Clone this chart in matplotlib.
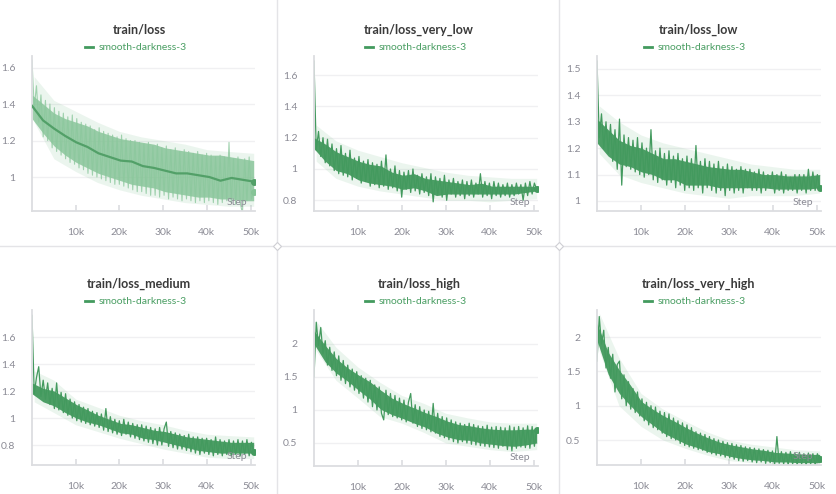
import numpy as np
import matplotlib
matplotlib.use("Agg")
import matplotlib.pyplot as plt

plt.rcParams['font.family'] = ['Lato', 'DejaVu Sans']

# ---------------- data ----------------
titles = ["train/loss", "train/loss_very_low", "train/loss_low",
          "train/loss_medium", "train/loss_high", "train/loss_very_high"]
legend_label = "smooth-darkness-3"
x_label = "Step"
xtick_vals = [10000, 20000, 30000, 40000, 50000]
xtick_labels = ["10k", "20k", "30k", "40k", "50k"]
ytick_sets = [
    [1, 1.2, 1.4, 1.6],
    [0.8, 1, 1.2, 1.4, 1.6],
    [1, 1.1, 1.2, 1.3, 1.4, 1.5],
    [0.8, 1, 1.2, 1.4, 1.6],
    [0.5, 1, 1.5, 2],
    [0.5, 1, 1.5, 2],
]

steps = np.arange(100) * 512
smooth_steps = np.arange(21) * 2535
core_steps = np.arange(21) * 2535
halo_steps = np.array([500, 5000, 10000, 15000, 20000, 25000, 30000, 35000, 40000, 45000, 50700])

loss_raw = [1.64, 1.38, 1.5, 1.3, 1.45, 1.22, 1.42, 1.2, 1.4, 1.16,
            1.38, 1.14, 1.36, 1.12, 1.35, 1.1, 1.33, 1.08, 1.34, 1.07,
            1.32, 1.05, 1.3, 1.04, 1.29, 1.02, 1.28, 1.01, 1.26, 1.0,
            1.27, 0.99, 1.25, 0.98, 1.24, 0.97, 1.23, 0.96, 1.22, 0.96,
            1.23, 0.95, 1.21, 0.94, 1.2, 0.93, 1.2, 0.92, 1.19, 0.92,
            1.18, 0.91, 1.19, 0.9, 1.17, 0.9, 1.18, 0.89, 1.16, 0.9,
            1.17, 0.88, 1.15, 0.89, 1.16, 0.88, 1.14, 0.87, 1.15, 0.88,
            1.14, 0.87, 1.13, 0.86, 1.14, 0.87, 1.12, 0.86, 1.13, 0.87,
            1.12, 0.86, 1.11, 0.85, 1.12, 0.86, 1.11, 0.87, 1.19, 0.86,
            1.1, 0.85, 1.11, 0.86, 0.8, 1.1, 0.87, 1.11, 0.88, 0.92]
loss_smooth = [1.39, 1.31, 1.265, 1.225, 1.19, 1.165, 1.13, 1.11, 1.09, 1.085,
               1.06, 1.05, 1.035, 1.02, 1.02, 1.01, 1.0, 0.98, 0.995, 0.985, 0.975]

loss_very_low = [1.69, 1.12, 1.24, 1.08, 1.2, 1.04, 1.19, 1.02, 1.16, 0.99,
                 1.13, 0.97, 1.15, 0.96, 1.1, 0.95, 1.12, 0.93, 1.07, 0.94,
                 1.08, 0.91, 1.05, 0.92, 1.06, 0.89, 1.04, 0.9, 1.03, 0.88,
                 1.05, 0.89, 1.09, 0.87, 1.0, 0.88, 1.02, 0.86, 0.99, 0.82,
                 0.98, 0.87, 0.99, 0.85, 1.0, 0.86, 0.96, 0.84, 0.97, 0.85,
                 0.95, 0.83, 0.97, 0.79, 0.95, 0.84, 0.94, 0.82, 0.96, 0.8,
                 0.93, 0.84, 0.94, 0.82, 0.92, 0.83, 0.93, 0.81, 0.92, 0.83,
                 0.93, 0.82, 0.91, 0.84, 0.97, 0.82, 0.92, 0.83, 0.91, 0.81,
                 0.92, 0.83, 0.91, 0.82, 0.9, 0.83, 0.91, 0.82, 0.9, 0.83,
                 0.91, 0.84, 0.9, 0.8, 0.91, 0.83, 0.92, 0.84, 0.91, 0.87]

loss_low = [1.53, 1.24, 1.33, 1.2, 1.3, 1.18, 1.29, 1.15, 1.27, 1.12,
            1.31, 1.06, 1.25, 1.13, 1.24, 1.12, 1.23, 1.11, 1.24, 1.1,
            1.22, 1.09, 1.2, 1.1, 1.27, 1.08, 1.19, 1.07, 1.2, 1.08,
            1.18, 1.06, 1.19, 1.07, 1.17, 1.05, 1.18, 1.06, 1.16, 1.04,
            1.17, 1.05, 1.16, 1.04, 1.21, 1.05, 1.15, 1.03, 1.16, 1.05,
            1.15, 1.04, 1.14, 1.03, 1.15, 1.04, 1.13, 1.02, 1.14, 1.04,
            1.13, 1.03, 1.12, 1.04, 1.13, 1.03, 1.12, 1.05, 1.12, 1.04,
            1.11, 1.04, 1.12, 1.03, 1.11, 1.04, 1.1, 1.05, 1.11, 1.03,
            1.1, 1.04, 1.11, 1.03, 1.1, 1.04, 1.09, 1.04, 1.1, 1.03,
            1.1, 1.04, 1.1, 1.03, 1.12, 1.04, 1.11, 1.04, 1.1, 1.05]

loss_medium = [1.76, 1.18, 1.3, 1.38, 1.16, 1.28, 1.14, 1.26, 1.1, 1.22,
               1.07, 1.26, 1.06, 1.19, 1.04, 1.18, 1.02, 1.14, 1.0, 1.12,
               0.98, 1.1, 0.97, 1.08, 0.96, 1.07, 0.95, 1.05, 0.94, 1.04,
               0.93, 1.03, 0.91, 1.07, 0.9, 1.01, 0.89, 0.99, 0.88, 0.98,
               0.87, 0.99, 0.88, 0.97, 0.86, 0.96, 0.85, 0.95, 0.84, 0.95,
               0.83, 0.94, 0.82, 0.93, 0.81, 0.92, 0.8, 0.93, 0.8, 0.92,
               0.97, 0.79, 0.9, 0.78, 0.89, 0.77, 0.88, 0.77, 0.87, 0.76,
               0.88, 0.75, 0.86, 0.74, 0.86, 0.73, 0.85, 0.74, 0.85, 0.73,
               0.84, 0.72, 0.86, 0.73, 0.84, 0.72, 0.83, 0.73, 0.84, 0.72,
               0.83, 0.73, 0.84, 0.72, 0.83, 0.73, 0.84, 0.72, 0.82, 0.75]

loss_high = [1.5, 2.33, 1.98, 2.25, 1.85, 2.05, 1.68, 1.95, 1.6, 1.88,
             1.52, 1.82, 1.45, 1.75, 1.4, 1.68, 1.35, 1.62, 1.3, 1.58,
             1.25, 1.52, 1.18, 1.48, 1.12, 1.45, 1.05, 1.38, 1.0, 1.35,
             0.95, 0.85, 1.3, 0.93, 1.25, 0.9, 1.22, 0.88, 1.18, 0.85,
             1.15, 0.82, 1.12, 1.25, 0.8, 1.08, 0.75, 1.05, 0.72, 1.0,
             0.7, 0.98, 0.67, 1.1, 0.65, 0.95, 0.6, 0.9, 0.58, 0.88,
             0.55, 0.85, 0.52, 0.82, 0.5, 0.8, 0.52, 0.78, 0.5, 0.8,
             0.48, 0.78, 0.47, 0.76, 0.46, 0.75, 0.45, 0.77, 0.44, 0.74,
             0.43, 0.75, 0.42, 0.74, 0.45, 0.73, 0.4, 0.76, 0.38, 0.74,
             0.42, 0.75, 0.44, 0.73, 0.43, 0.76, 0.42, 0.75, 0.45, 0.7]

loss_very_high = [1.65, 2.3, 1.9, 2.1, 1.55, 1.85, 1.4, 1.75, 1.2, 1.6,
                  1.65, 1.1, 1.45, 1.0, 1.35, 0.95, 1.25, 0.9, 1.2, 0.85,
                  1.1, 0.78, 1.05, 0.72, 1.0, 0.68, 0.98, 0.65, 0.92, 0.6,
                  0.9, 0.55, 0.88, 0.52, 0.82, 0.5, 0.78, 0.45, 0.75, 0.42,
                  0.72, 0.4, 0.68, 0.38, 0.62, 0.36, 0.6, 0.35, 0.58, 0.32,
                  0.55, 0.3, 0.52, 0.28, 0.5, 0.27, 0.48, 0.25, 0.46, 0.24,
                  0.45, 0.22, 0.43, 0.2, 0.42, 0.19, 0.4, 0.2, 0.39, 0.18,
                  0.38, 0.17, 0.37, 0.18, 0.36, 0.16, 0.35, 0.17, 0.34, 0.15,
                  0.55, 0.16, 0.33, 0.15, 0.32, 0.14, 0.33, 0.15, 0.31, 0.14,
                  0.32, 0.15, 0.3, 0.13, 0.31, 0.15, 0.3, 0.14, 0.3, 0.22]

# dense core band of each run (where most raw points fall)
core_hi = [
    [1.45, 1.4, 1.35, 1.32, 1.3, 1.28, 1.25, 1.23, 1.21, 1.2, 1.19, 1.18, 1.16, 1.15, 1.14, 1.13, 1.12, 1.12, 1.11, 1.1, 1.09],
    [1.2, 1.16, 1.11, 1.08, 1.05, 1.03, 1.02, 0.98, 0.96, 0.97, 0.94, 0.93, 0.92, 0.91, 0.9, 0.91, 0.89, 0.89, 0.89, 0.89, 0.89],
    [1.31, 1.27, 1.23, 1.21, 1.2, 1.18, 1.16, 1.16, 1.15, 1.14, 1.13, 1.125, 1.12, 1.12, 1.11, 1.1, 1.1, 1.095, 1.095, 1.095, 1.1],
    [1.26, 1.22, 1.2, 1.15, 1.1, 1.06, 1.02, 0.99, 0.96, 0.95, 0.93, 0.91, 0.9, 0.88, 0.86, 0.85, 0.84, 0.83, 0.82, 0.82, 0.82],
    [2.2, 1.98, 1.78, 1.64, 1.53, 1.43, 1.3, 1.18, 1.1, 1.03, 0.96, 0.9, 0.83, 0.78, 0.76, 0.73, 0.71, 0.7, 0.7, 0.71, 0.71],
    [2.2, 1.78, 1.52, 1.3, 1.06, 0.95, 0.85, 0.77, 0.68, 0.6, 0.53, 0.47, 0.43, 0.4, 0.37, 0.35, 0.32, 0.31, 0.3, 0.29, 0.29],
]
core_lo = [
    [1.32, 1.24, 1.17, 1.12, 1.08, 1.05, 1.02, 1.0, 0.98, 0.96, 0.95, 0.94, 0.92, 0.91, 0.9, 0.89, 0.89, 0.88, 0.88, 0.87, 0.87],
    [1.13, 1.05, 0.99, 0.97, 0.93, 0.91, 0.9, 0.89, 0.87, 0.88, 0.86, 0.83, 0.84, 0.84, 0.84, 0.84, 0.84, 0.84, 0.84, 0.85, 0.86],
    [1.22, 1.17, 1.14, 1.13, 1.11, 1.1, 1.08, 1.08, 1.06, 1.06, 1.06, 1.05, 1.05, 1.05, 1.05, 1.05, 1.045, 1.045, 1.045, 1.045, 1.05],
    [1.18, 1.12, 1.09, 1.04, 1.0, 0.97, 0.95, 0.92, 0.89, 0.88, 0.85, 0.84, 0.82, 0.8, 0.78, 0.76, 0.75, 0.74, 0.74, 0.74, 0.74],
    [2.0, 1.73, 1.56, 1.44, 1.3, 1.17, 1.01, 0.93, 0.87, 0.8, 0.74, 0.65, 0.59, 0.55, 0.54, 0.5, 0.48, 0.46, 0.45, 0.47, 0.5],
    [1.95, 1.46, 1.18, 1.0, 0.84, 0.72, 0.6, 0.52, 0.44, 0.39, 0.33, 0.3, 0.26, 0.23, 0.21, 0.2, 0.18, 0.18, 0.17, 0.17, 0.17],
]

halo_hi = [
    [1.55, 1.42, 1.36, 1.3, 1.25, 1.22, 1.2, 1.18, 1.15, 1.14, 1.13],
    [1.28, 1.18, 1.12, 1.08, 1.04, 1.01, 0.98, 0.96, 0.95, 0.94, 0.94],
    [1.36, 1.3, 1.25, 1.22, 1.2, 1.18, 1.16, 1.14, 1.13, 1.12, 1.12],
    [1.35, 1.28, 1.14, 1.08, 1.02, 0.98, 0.95, 0.91, 0.88, 0.87, 0.86],
    [2.35, 1.95, 1.65, 1.42, 1.22, 1.1, 0.95, 0.88, 0.82, 0.8, 0.8],
    [2.35, 1.7, 1.18, 0.95, 0.78, 0.62, 0.5, 0.44, 0.4, 0.36, 0.34],
]
halo_lo = [
    [1.3, 1.1, 1.03, 0.97, 0.93, 0.9, 0.88, 0.86, 0.85, 0.84, 0.84],
    [1.05, 0.94, 0.89, 0.86, 0.84, 0.82, 0.8, 0.8, 0.79, 0.8, 0.81],
    [1.18, 1.1, 1.07, 1.05, 1.03, 1.02, 1.01, 1.02, 1.02, 1.02, 1.03],
    [1.12, 1.04, 0.95, 0.9, 0.85, 0.81, 0.77, 0.74, 0.71, 0.7, 0.7],
    [1.9, 1.45, 1.18, 0.9, 0.8, 0.66, 0.5, 0.45, 0.4, 0.37, 0.4],
    [1.8, 1.0, 0.7, 0.5, 0.38, 0.28, 0.2, 0.17, 0.14, 0.13, 0.13],
]

series = [loss_raw, loss_very_low, loss_low, loss_medium, loss_high, loss_very_high]

# ---------------- layout / style ----------------
W, H = 836, 494
fig = plt.figure(figsize=(W / 100, H / 100), dpi=100)
fig.patch.set_facecolor("white")

DARK = "#439a5e"
LIGHT = "#86c497"
GRID = "#f0f0f2"
AXC = "#dcdde0"
TXT = "#8b8b95"

# pixel rects: (left, right, top, bottom), ylim, cell centre x, title y
rects = [
    (32, 255, 56, 211, (0.814, 1.663), 139, 30),
    (314, 538, 56, 211, (0.7316, 1.722), 419, 30),
    (597, 821, 56, 211, (0.962, 1.549), 698, 30),
    (32, 255, 310, 465, (0.652, 1.80), 139, 284),
    (314, 538, 310, 466, (0.1515, 2.515), 419, 284),
    (597, 821, 310, 465, (0.1356, 2.395), 698, 284),
]

for i, (l, r, t, b, ylim, cx, ty) in enumerate(rects):
    ax = fig.add_axes([l / W, 1 - b / H, (r - l) / W, (b - t) / H])
    ax.set_xlim(0, 51000)
    ax.set_ylim(*ylim)
    for s in ["top", "right"]:
        ax.spines[s].set_visible(False)
    for s in ["left", "bottom"]:
        ax.spines[s].set_color(AXC)
        ax.spines[s].set_linewidth(1.3)
    ax.set_yticks(ytick_sets[i])
    ax.set_yticklabels([f"{v:g}" for v in ytick_sets[i]])
    ax.set_xticks(xtick_vals)
    ax.set_xticklabels(xtick_labels)
    ax.tick_params(axis="y", length=0, pad=12, labelsize=7.5, labelcolor=TXT)
    ax.tick_params(axis="x", direction="in", length=4, width=1.2, color=AXC,
                   pad=12, labelsize=7.5, labelcolor=TXT)
    ax.grid(axis="y", color=GRID, linewidth=1.0)
    ax.set_axisbelow(True)

    ax.fill_between(halo_steps, halo_lo[i], halo_hi[i], color=LIGHT,
                    alpha=0.16, linewidth=0, zorder=1)
    if i == 0:
        ax.fill_between(core_steps, core_lo[i], core_hi[i], color="#7dbf8f",
                        alpha=0.75, linewidth=0, zorder=2)
        ax.plot(steps, series[i], color="#8cc89d", linewidth=0.8, alpha=0.8, zorder=2)
        ax.plot(smooth_steps, loss_smooth, color="#52a068", linewidth=1.6, zorder=3)
        ax.plot(steps[-1:], series[i][-1:], "o", color=LIGHT, markersize=4, zorder=4)
        ax.plot(smooth_steps[-1:], loss_smooth[-1:], "o", color="#52a068",
                markersize=4, zorder=4)
    else:
        ax.fill_between(core_steps, core_lo[i], core_hi[i], color=DARK,
                        alpha=0.95, linewidth=0, zorder=2)
        ax.plot(steps, series[i], color=DARK, linewidth=0.9, zorder=2)
        ax.plot(steps[-1:], series[i][-1:], "o", color=DARK, markersize=4, zorder=4)

    ax.text(1 - 8 / (r - l), 4 / (b - t), x_label, transform=ax.transAxes,
            ha="right", va="bottom", fontsize=7.5, color=TXT, zorder=5)

    fig.text(cx / W, 1 - ty / H, titles[i], ha="center", va="center",
             fontsize=9, fontweight="bold", color="#3a3a3a")
    # legend entry
    lx = cx - 54
    ly = 1 - (ty + 17) / H
    fig.add_artist(plt.Line2D([lx / W, (lx + 8) / W], [ly, ly], color=DARK,
                              linewidth=2, transform=fig.transFigure))
    fig.text((lx + 14) / W, ly, legend_label, ha="left", va="center",
             fontsize=7.5, color="#4a9e63")

# panel dividers
DIV = "#e4e4e7"
for xd in (277, 559):
    fig.add_artist(plt.Line2D([xd / W, xd / W], [0, 1], color=DIV, linewidth=1.0,
                              transform=fig.transFigure))
fig.add_artist(plt.Line2D([0, 1], [1 - 246 / H, 1 - 246 / H], color=DIV,
                          linewidth=1.0, transform=fig.transFigure))
for xd in (277, 559):
    fig.add_artist(plt.Line2D([xd / W], [1 - 246 / H], marker="D", markersize=4,
                              markerfacecolor="white", markeredgecolor="#cfcfd4",
                              markeredgewidth=0.8, transform=fig.transFigure))

fig.savefig("out.png", dpi=100)
